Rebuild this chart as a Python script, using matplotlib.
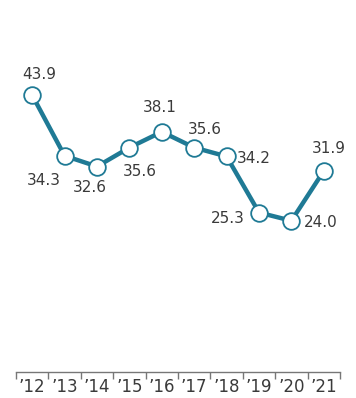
import matplotlib
matplotlib.use("Agg")
from matplotlib import pyplot as plt
import numpy as np

# Data
years = ["\u201912", "\u201913", "\u201914", "\u201915", "\u201916", "\u201917", "\u201918", "\u201919", "\u201920", "\u201921"]
values = [43.9, 34.3, 32.6, 35.6, 38.1, 35.6, 34.2, 25.3, 24.0, 31.9]
# label offsets from each point, in pixels (dx, dy)
label_offsets = [(7, 21), (-21, -25), (-7, -21), (10, -24), (-2, 24),
                 (11, 18), (27, -2), (-31, -6), (29, -2), (5, 22)]

line_color = "#1f7a95"
text_color = "#3a3a3a"

fig = plt.figure(figsize=(3.56, 3.98), dpi=100)
ax = fig.add_axes([0.045, 0.065, 0.91, 0.935])

x = np.arange(len(values))
ax.plot(x, values, color=line_color, linewidth=3.2, zorder=2,
        marker="o", markersize=12, markerfacecolor="white",
        markeredgecolor=line_color, markeredgewidth=1.3)

for xi, v, off in zip(x, values, label_offsets):
    ax.annotate(f"{v:.1f}", (xi, v), xytext=off, textcoords="offset pixels",
                ha="center", va="center", fontsize=11, color=text_color)

ax.set_xlim(-0.5, len(values) - 0.5)
ax.set_ylim(0, 59)

for side in ["top", "right", "left"]:
    ax.spines[side].set_visible(False)
ax.spines["bottom"].set_color("#777777")
ax.spines["bottom"].set_linewidth(1)
ax.set_yticks([])

ax.set_xticks(x)
ax.set_xticklabels(years, fontsize=12, color=text_color)
ax.set_xticks(np.arange(-0.5, len(values)), minor=True)
ax.tick_params(axis="x", which="major", length=0, pad=4)
ax.tick_params(axis="x", which="minor", length=5, width=1, color="#777777")

plt.savefig("out.png", dpi=100)
